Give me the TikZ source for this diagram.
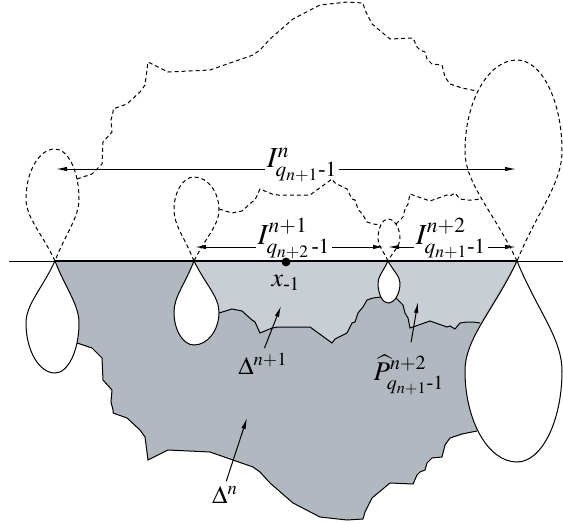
\documentclass[tikz,border=0pt]{standalone}
\usepackage{amsmath}
\usepackage{mathptmx}
\usepackage{fontspec}
\setmainfont{Liberation Serif}
\usetikzlibrary{arrows.meta}

\definecolor{darkfill}{RGB}{178,184,191}
\definecolor{lightfill}{RGB}{201,205,212}

\tikzset{
  edge/.style={line width=0.5pt},
  mirror/.style={line width=0.5pt, dash pattern=on 2pt off 1.5pt},
  lab/.style={inner sep=0.5pt, font=\fontsize{#1}{#1}\selectfont},
  lab/.default=14.5,
  arr/.style={-{Latex[length=5.5pt,width=2.2pt]}, line width=0.5pt},
  dot/.style={circle, fill, inner sep=0pt, minimum size=4.4pt},
}

% drop: top x, depth, left width, right width, depth of widest part
\newcommand{\drop}[5]{(#1,0)
  .. controls ({#1-0.45*#3},{0.45*#5}) and ({#1-#3},{0.7*#5}) .. ({#1-#3},#5)
  .. controls ({#1-#3},{#5+0.55*(#2-#5)}) and ({#1-0.55*#3},#2) .. (#1,#2)
  .. controls ({#1+0.55*#4},#2) and ({#1+#4},{#5+0.55*(#2-#5)}) .. ({#1+#4},#5)
  .. controls ({#1+#4},{0.7*#5}) and ({#1+0.45*#4},{0.45*#5}) .. cycle}

% lower edge of the big region, depth under the line
\newcommand{\bigedge}{(77,82) -- (92,87) -- (102,97) -- (103,119) -- (112,129)
  -- (111,141) -- (113,149) -- (113,152) -- (127,157) -- (140,169) -- (145,176)
  -- (148,199) -- (168,189) -- (210,191) -- (253,206) -- (260,211) -- (270,222)
  -- (293,242) -- (320,256) -- (347,259) -- (363,258) -- (365,251) -- (372,237)
  -- (390,222) -- (413,223) -- (417,214) -- (420,211) -- (425,209) -- (427,202)
  -- (432,197) -- (442,196) -- (445,184) -- (450,177) -- (462,173) -- (477,170)}
% lower edge of the small region, left and right of the small drop
\newcommand{\edgeA}{(219,52) -- (232,48) -- (242,50) -- (252,59) -- (255,61)
  -- (260,72) -- (272,67) -- (278,66) -- (310,66) -- (332,82) -- (335,78)
  -- (347,72) -- (352,62) -- (355,61) -- (358,52) -- (363,46) -- (367,39)
  -- (373,37) -- (381,36)}
\newcommand{\edgeB}{(396,37) -- (403,44) -- (405,52) -- (408,57) -- (410,67)
  -- (430,60) -- (447,66) -- (450,65) -- (455,68) -- (460,62) -- (467,61)
  -- (473,61) -- (480,62)}

\begin{document}
\begin{tikzpicture}[x=0.5pt,y=-0.5pt]
  \useasboundingbox (0,0) rectangle (563,525);

  % below the line
  \begin{scope}[shift={(0,261)}]
    \fill[darkfill] \bigedge -- (517,0) -- (55,0) -- cycle;
    \fill[lightfill] \edgeA -- (388,0) -- (194,0) -- cycle;
    \fill[lightfill] \edgeB -- (517,0) -- (388,0) -- cycle;
    \draw[edge] \bigedge;
    \draw[edge] \edgeA;
    \draw[edge] \edgeB;
    \draw[edge, fill=white] \drop{55}{112}{29}{24}{62};
    \draw[edge, fill=white] \drop{194}{84}{20}{25}{51};
    \draw[edge, fill=white] \drop{388}{42}{10}{12}{22};
    \draw[edge, fill=white] \drop{517}{201}{52}{45}{110};
  \end{scope}

  % reflected copy above the line
  \begin{scope}[shift={(0,261)}, yscale=-1]
    \draw[mirror] \bigedge;
    \draw[mirror] \edgeA;
    \draw[mirror] \edgeB;
    \draw[mirror] \drop{55}{112}{29}{24}{62};
    \draw[mirror] \drop{194}{84}{20}{25}{51};
    \draw[mirror] \drop{388}{42}{10}{12}{22};
    \draw[mirror] \drop{517}{201}{52}{45}{110};
  \end{scope}

  % the line
  \coordinate (lineL) at (9,261);
  \coordinate (lineR) at (563,261);
  \draw[edge] (lineL) -- (lineR);
  \draw[line width=0.9pt] (55,261) -- (517,261);
  \node[dot] (x0) at (286,262) {};
  \node[lab=13] (x0lab) at (286,283) {$x_{\text{-}1}$};

  % intervals
  \coordinate (InL) at (56,169);   \coordinate (InR) at (516,169);
  \coordinate (In1L) at (195,247); \coordinate (In1R) at (384,247);
  \coordinate (In2L) at (388,247); \coordinate (In2R) at (516,247);
  \node[lab] (In) at (302,165) {$I^{n}_{q_{n+1}\text{-}1}$};
  \node[lab] (In1) at (294,239) {$I^{n+1}_{q_{n+2}\,\text{-}1}$};
  \node[lab] (In2) at (451,239) {$I^{n+2}_{q_{n+1}\text{-}1}$};
  \draw[arr] (In.west |- InL) -- (InL);
  \draw[arr] (In.east |- InR) -- (InR);
  \draw[arr] (In1.west |- In1L) -- (In1L);
  \draw[arr] (In1.east |- In1R) -- (In1R);
  \draw[arr] (In2.west |- In2L) -- (In2L);
  \draw[arr] (In2.east |- In2R) -- (In2R);

  % regions
  \coordinate (tD1) at (281,306);
  \coordinate (tP) at (418,302);
  \coordinate (tD) at (247,418);
  \node[lab=12.5] (D1) at (263,364) {$\Delta^{n+1}$};
  \node[lab=13.5] (P) at (409,375) {$\widehat{P}^{n+2}_{q_{n+1}\text{-}1}$};
  \node[lab=12.5] (D) at (225,495) {$\Delta^{n}$};
  \draw[arr, shorten <=2pt] (D1.north) -- (tD1);
  \draw[arr, shorten <=6pt] (P.north) -- (tP);
  \draw[arr, shorten <=2pt] (D.north) -- (tD);
\end{tikzpicture}
\end{document}
